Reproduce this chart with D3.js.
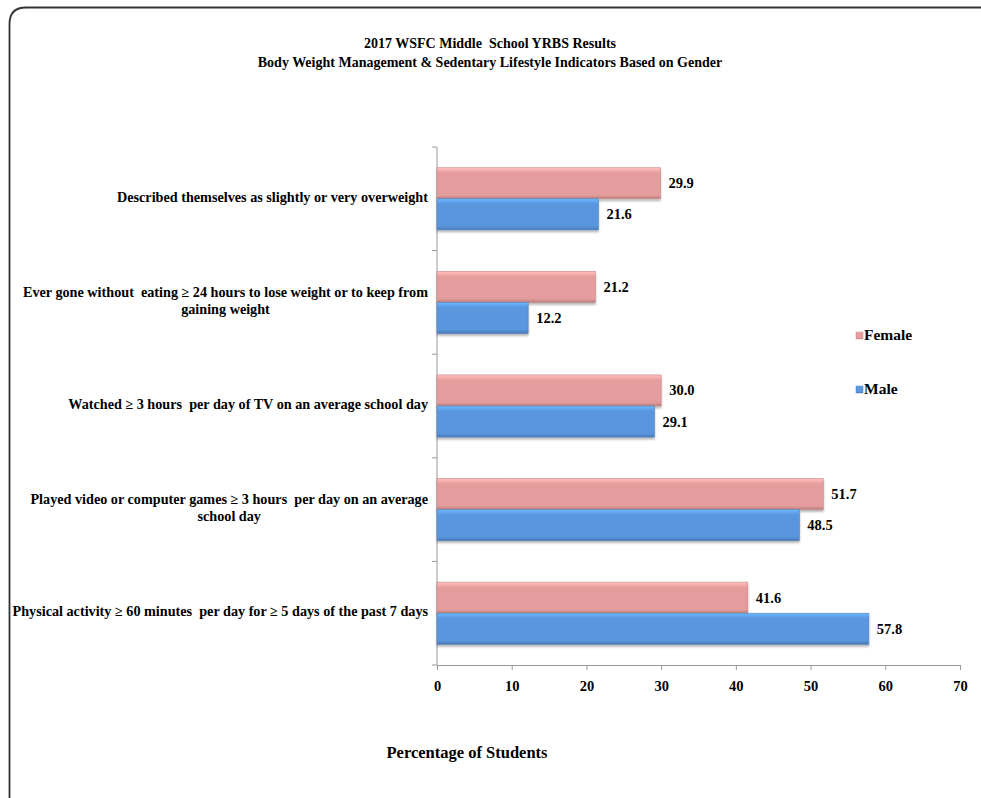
<!DOCTYPE html>
<html>
<head>
<meta charset="utf-8">
<script src="https://cdn.jsdelivr.net/npm/d3@7"></script>
<style>
  html, body { margin: 0; padding: 0; background: #fff; }
  svg { display: block; }
  text { font-family: "Liberation Serif", "Times New Roman", serif; font-weight: bold; fill: #000; white-space: pre; }
</style>
</head>
<body>
<svg id="chart" width="981" height="798"></svg>
<script>
// Indicators, top to bottom
const categories = [
  ["Described themselves as slightly or very overweight"],
  ["Ever gone without  eating \u2265 24 hours to lose weight or to keep from", "gaining weight"],
  ["Watched \u2265 3 hours  per day of TV on an average school day"],
  ["Played video or computer games \u2265 3 hours  per day on an average", "school day"],
  ["Physical activity \u2265 60 minutes  per day for \u2265 5 days of the past 7 days"]
];
const seriesNames = ["Female", "Male"];
const femaleValues = [29.9, 21.2, 30.0, 51.7, 41.6];
const maleValues = [21.6, 12.2, 29.1, 48.5, 57.8];
const xTicks = [0, 10, 20, 30, 40, 50, 60, 70];
const titleLines = [
  "2017 WSFC Middle  School YRBS Results",
  "Body Weight Management & Sedentary Lifestyle Indicators Based on Gender"
];
const axisTitle = "Percentage of Students";

const colors = { Female: "#E49D9C", Male: "#5A96DE" };

const svg = d3.select("#chart");
const defs = svg.append("defs");

// Bevelled fill for each series
function bevel(id, base) {
  const c = d3.color(base);
  const g = defs.append("linearGradient").attr("id", id)
    .attr("x1", 0).attr("y1", 0).attr("x2", 0).attr("y2", 1);
  g.append("stop").attr("offset", "0%").attr("stop-color", c.brighter(0.6));
  g.append("stop").attr("offset", "12%").attr("stop-color", c.brighter(0.15));
  g.append("stop").attr("offset", "18%").attr("stop-color", c);
  g.append("stop").attr("offset", "88%").attr("stop-color", c);
  g.append("stop").attr("offset", "100%").attr("stop-color", c.darker(0.6));
}
bevel("gradFemale", colors.Female);
bevel("gradMale", colors.Male);

const shadow = defs.append("filter").attr("id", "shadow")
  .attr("x", "-5%").attr("y", "-20%").attr("width", "110%").attr("height", "160%");
shadow.append("feDropShadow").attr("dx", 0).attr("dy", 2).attr("stdDeviation", 1.2)
  .attr("flood-color", "#000").attr("flood-opacity", 0.3);

// Outer frame with rounded corner
svg.append("path")
  .attr("d", "M9.5,800 L9.5,24 Q9.5,7.5 26,7.5 L990,7.5")
  .attr("fill", "none").attr("stroke", "#333").attr("stroke-width", 1.8);

// Title
svg.append("g").selectAll("text").data(titleLines).join("text")
  .attr("x", 490).attr("y", (d, i) => 48 + i * 19)
  .attr("text-anchor", "middle").style("font-size", "14px")
  .text(d => d);

const plot = { left: 437, right: 960, top: 147, bottom: 665 };

const x = d3.scaleLinear().domain([0, 70]).range([plot.left, plot.right]);
const y = d3.scaleBand().domain(d3.range(categories.length))
  .range([plot.top, plot.bottom]).paddingInner(0.4).paddingOuter(0.2);
const ySub = d3.scaleBand().domain(seriesNames).range([0, y.bandwidth()]);

// Axes
const xAxis = d3.axisBottom(x).tickValues(xTicks).tickSize(5).tickSizeOuter(0).tickPadding(11);
const gx = svg.append("g").attr("transform", `translate(0,${plot.bottom})`).call(xAxis);
gx.attr("font-family", null).attr("font-size", null);
gx.select(".domain").attr("stroke", "#999");
gx.selectAll(".tick line").attr("stroke", "#999");
gx.selectAll(".tick text").style("font-size", "14.5px").attr("fill", "#000");
gx.append("line").attr("x1", plot.left - 5).attr("x2", plot.left).attr("stroke", "#999");

const yLine = svg.append("g");
yLine.append("line").attr("x1", plot.left).attr("x2", plot.left)
  .attr("y1", plot.top).attr("y2", plot.bottom).attr("stroke", "#999");
const step = (plot.bottom - plot.top) / categories.length;
yLine.selectAll("line.tk").data(d3.range(categories.length)).join("line").attr("class", "tk")
  .attr("x1", plot.left - 5).attr("x2", plot.left)
  .attr("y1", i => plot.top + i * step).attr("y2", i => plot.top + i * step)
  .attr("stroke", "#999");

// Category labels: first line right-aligned, continuation centred beneath it
const labelRight = 428;
const labels = svg.append("g");
categories.forEach((lines, i) => {
  const cy = y(i) + y.bandwidth() / 2;
  const t = labels.append("text").style("font-size", "14.2px");
  const spans = lines.map((ln, j) => t.append("tspan")
    .attr("y", cy + 3 + (j - (lines.length - 1) / 2) * 17)
    .text(ln));
  spans[0].attr("x", labelRight).attr("text-anchor", "end");
  if (spans.length > 1) {
    const w = spans[0].node().getComputedTextLength();
    spans[1].attr("x", labelRight - w / 2).attr("text-anchor", "middle");
  }
});

// Bars
const rows = categories.map((c, i) => ({ i, Female: femaleValues[i], Male: maleValues[i] }));
const barG = svg.append("g");
seriesNames.forEach(s => {
  barG.selectAll(`rect.${s}`).data(rows).join("rect").attr("class", s)
    .attr("x", x(0))
    .attr("y", d => y(d.i) + ySub(s))
    .attr("width", d => x(d[s]) - x(0))
    .attr("height", ySub.bandwidth())
    .attr("fill", `url(#grad${s})`)
    .attr("stroke", d3.color(colors[s]).darker(0.4))
    .attr("stroke-width", 0.6)
    .attr("filter", "url(#shadow)");
  barG.selectAll(`text.${s}`).data(rows).join("text").attr("class", s)
    .attr("x", d => x(d[s]) + 8)
    .attr("y", d => y(d.i) + ySub(s) + ySub.bandwidth() / 2 + 5)
    .style("font-size", "14.5px")
    .text(d => d[s].toFixed(1));
});

// Legend
const legend = svg.append("g").attr("transform", "translate(856,0)");
seriesNames.forEach((s, k) => {
  const ly = 337 + k * 54;
  legend.append("rect").attr("x", 0).attr("y", ly - 5).attr("width", 7).attr("height", 7)
    .attr("fill", `url(#grad${s})`).attr("stroke", d3.color(colors[s]).darker(0.4)).attr("stroke-width", 0.5);
  legend.append("text").attr("x", 8).attr("y", ly + 3).style("font-size", "15.5px").text(s);
});

// Axis title
svg.append("text").attr("x", 467).attr("y", 758).attr("text-anchor", "middle")
  .style("font-size", "16.5px").text(axisTitle);
</script>
</body>
</html>
